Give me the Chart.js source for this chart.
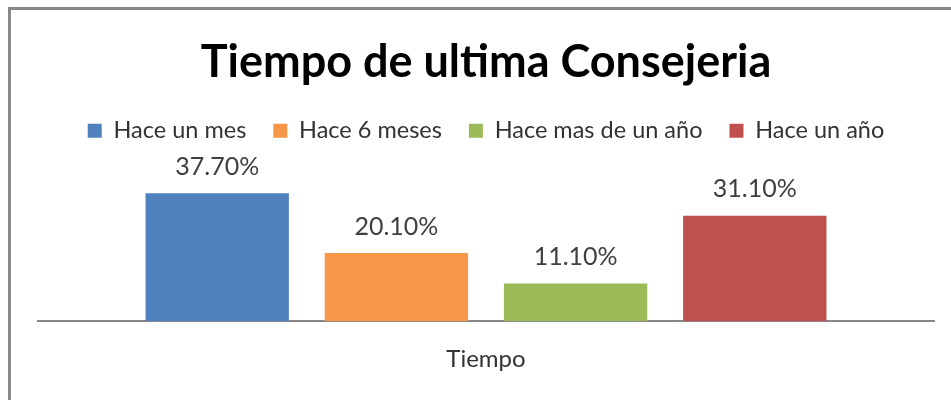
<!DOCTYPE html>
<html>
<head>
<meta charset="utf-8">
<script src="https://cdn.jsdelivr.net/npm/chart.js@4"></script>
<style>
  html, body { margin: 0; padding: 0; background: #fff; overflow: hidden; }
  #wrap { position: relative; width: 951px; height: 400px; }
  #marco {
    position: absolute; left: 8px; top: 7px; width: 960px; height: 400px;
    border-left: 3px solid #888; border-top: 3px solid #888;
  }
  canvas { position: absolute; left: 0; top: 0; }
</style>
</head>
<body>
<div id="wrap">
  <div id="marco"></div>
  <canvas id="grafico" width="951" height="400"></canvas>
</div>
<script>
// Datos del grafico
const categorias = ['Tiempo'];
const series = ['Hace un mes', 'Hace 6 meses', 'Hace mas de un año', 'Hace un año'];
const valores = [37.7, 20.1, 11.1, 31.1];
const colores = ['#4F81BD', '#F79646', '#9BBB59', '#C0504D'];

const fuente = 'Lato, "Noto Sans", sans-serif';

// Etiquetas de porcentaje sobre las barras
const etiquetas = {
  id: 'etiquetas',
  afterDatasetsDraw(chart) {
    const ctx = chart.ctx;
    ctx.save();
    ctx.font = '25px ' + fuente;
    ctx.fillStyle = '#404040';
    ctx.textAlign = 'center';
    ctx.textBaseline = 'bottom';
    chart.data.datasets.forEach((ds, i) => {
      const bar = chart.getDatasetMeta(i).data[0];
      ctx.fillText(ds.data[0].toFixed(2) + '%', bar.x, bar.y - 14);
    });
    ctx.restore();
  }
};

// Espacio extra debajo de la leyenda
const espacioLeyenda = {
  id: 'espacioLeyenda',
  beforeInit(chart) {
    const fitOriginal = chart.legend.fit;
    chart.legend.fit = function () {
      fitOriginal.bind(chart.legend)();
      this.height += 33;
    };
  }
};

const ctx = document.getElementById('grafico').getContext('2d');
const chart = new Chart(ctx, {
  type: 'bar',
  data: {
    labels: categorias,
    datasets: series.map((nombre, i) => ({
      label: nombre,
      data: [valores[i]],
      backgroundColor: colores[i],
      borderWidth: 0
    }))
  },
  options: {
    responsive: false,
    animation: false,
    barPercentage: 0.8,
    categoryPercentage: 0.8,
    layout: { padding: { left: 38, right: 17, top: 0, bottom: 26 } },
    plugins: {
      title: {
        display: true,
        text: 'Tiempo de ultima Consejeria',
        color: '#000',
        font: { family: fuente, size: 45, weight: 'bold' },
        padding: { top: 35, bottom: 3 }
      },
      legend: {
        position: 'top',
        labels: {
          color: '#333',
          font: { family: fuente, size: 23.5 },
          boxWidth: 14,
          boxHeight: 14,
          padding: 27
        }
      },
      tooltip: { enabled: false }
    },
    scales: {
      x: {
        grid: { display: true, drawOnChartArea: false, drawTicks: false },
        border: { display: true, color: '#888', width: 2 },
        ticks: { display: false },
        title: {
          display: true,
          text: 'Tiempo',
          color: '#333',
          font: { family: fuente, size: 24 },
          padding: { top: 24, bottom: 0 }
        }
      },
      y: {
        display: false,
        min: 0,
        max: 40
      }
    }
  },
  plugins: [etiquetas, espacioLeyenda]
});
</script>
</body>
</html>
